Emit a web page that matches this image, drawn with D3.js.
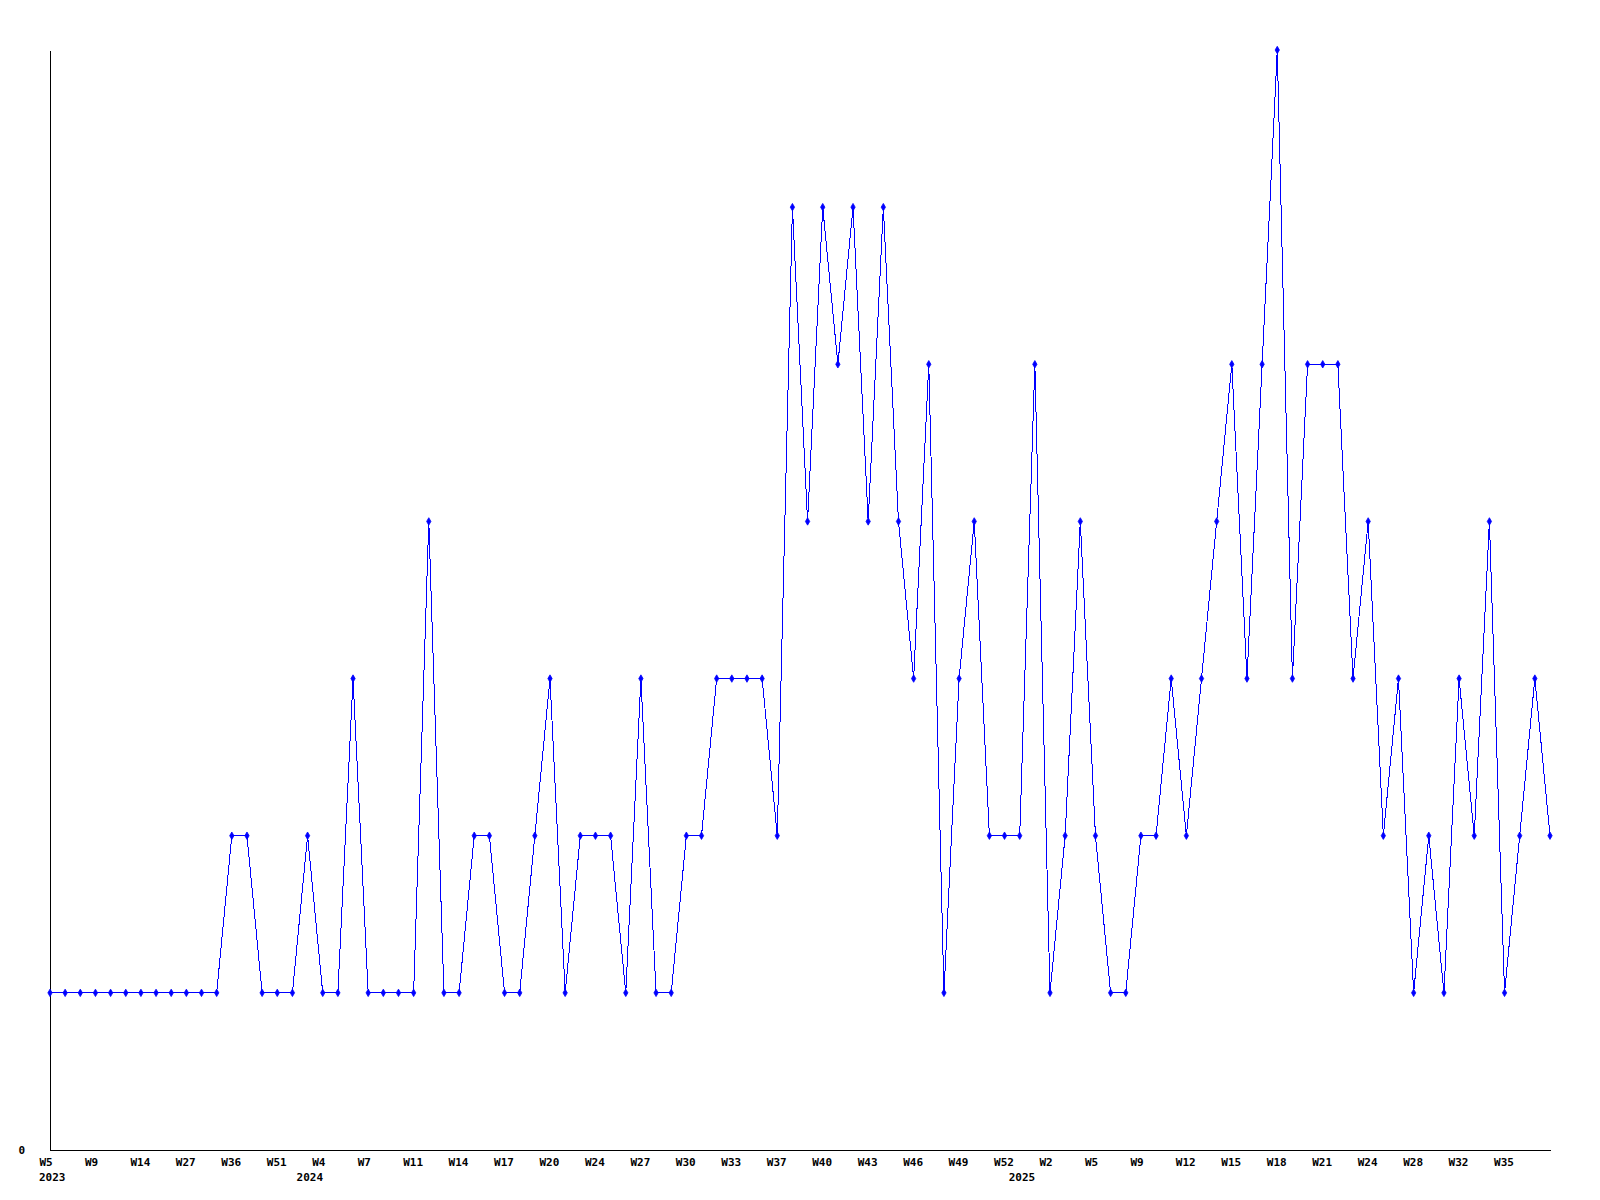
<!DOCTYPE html>
<html>
<head>
<meta charset="utf-8">
<script src="https://cdn.jsdelivr.net/npm/d3@7"></script>
<style>
    html, body { margin: 0; padding: 0; background: #fff; }
    #chart text { font-family: 'DejaVu Sans Mono', monospace; font-weight: bold; font-size: 11px; fill: #000; }
</style>
</head>
<body>
<div id="chart"></div>
<script>
//Datos
const VALUES = [
    1, 1, 1, 1, 1, 1, 1, 1, 1, 1, 1, 1, 2, 2, 1, 1, 1, 2, 1, 1,
    3, 1, 1, 1, 1, 4, 1, 1, 2, 2, 1, 1, 2, 3, 1, 2, 2, 2, 1, 3,
    1, 1, 2, 2, 3, 3, 3, 3, 2, 6, 4, 6, 5, 6, 4, 6, 4, 3, 5, 1,
    3, 4, 2, 2, 2, 5, 1, 2, 4, 2, 1, 1, 2, 2, 3, 2, 3, 4, 5, 3,
    5, 7, 3, 5, 5, 5, 3, 4, 2, 3, 1, 2, 1, 3, 2, 4, 1, 2, 3, 2
];
const TICK_LABELS = ['W5','W9','W14','W27','W36','W51','W4','W7','W11','W14','W17',
    'W20','W24','W27','W30','W33','W37','W40','W43','W46','W49','W52','W2',
    'W5','W9','W12','W15','W18','W21','W24','W28','W32','W35'];
const TICK_STEP = 3;
const YEAR_LABELS = ['2023', '2024', '2025'];
const YEAR_START = [0, 17, 64];
const Y_TICKS = [0];
const Y_MAX = 7;

//Colores fijos
const COLOR_LINE = '#0000ff',
COLOR_AXIS = '#000000';

let margin = {top: 50, right: 50, bottom: 50, left: 50},
    width = 1600 - margin.left - margin.right,
    height = 1200 - margin.top - margin.bottom;

let svg = d3.select('#chart')
    .append('svg')
        .attr('width', 1600)
        .attr('height', 1200)
    .append('g')
        .attr('transform', 'translate(' + margin.left + ',' + margin.top + ')');

let x = d3.scaleLinear()
    .domain([0, VALUES.length - 1])
    .range([0, width]);

let y = d3.scaleLinear()
    .domain([0, Y_MAX])
    .range([height, 0]);

//Eje X
let tickIdx = TICK_LABELS.map(function(d, i) { return i * TICK_STEP; });

let xAxis = function(g) {
    g.call(d3.axisBottom(x)
        .tickValues(tickIdx)
        .tickFormat(function(d, i) { return TICK_LABELS[i]; })
        .tickSize(0)
        .tickSizeOuter(0)
        .tickPadding(0));
    g.select('.domain').attr('stroke', COLOR_AXIS).attr('shape-rendering', 'crispEdges');
    g.selectAll('.tick text')
        .attr('text-anchor', 'start')
        .attr('x', -11)
        .attr('y', 16)
        .attr('dy', null);
}

svg.append('g')
    .attr('transform', 'translate(0,' + height + ')')
    .call(xAxis);

//Años
svg.append('g')
    .selectAll('text')
    .data(YEAR_LABELS)
    .enter()
    .append('text')
    .attr('x', function(d, i) { return x(YEAR_START[i]) - 11; })
    .attr('y', height + 31)
    .text(function(d) { return d; });

//Eje Y
let yAxis = function(g) {
    g.call(d3.axisLeft(y)
        .tickValues(Y_TICKS)
        .tickFormat(d3.format('d'))
        .tickSize(0)
        .tickSizeOuter(0)
        .tickPadding(25));
    g.select('.domain').attr('stroke', COLOR_AXIS).attr('shape-rendering', 'crispEdges');
    g.selectAll('.tick text').attr('text-anchor', 'end').attr('dy', '0.35em');
}

svg.append('g')
    .call(yAxis);

//Línea
let line = d3.line()
    .x(function(d, i) { return x(i); })
    .y(function(d) { return y(d); });

svg.append('path')
    .datum(VALUES)
    .attr('fill', 'none')
    .attr('stroke', COLOR_LINE)
    .attr('stroke-width', 1)
    .attr('shape-rendering', 'crispEdges')
    .attr('d', line);

//Marcadores
svg.selectAll('.dot')
    .data(VALUES)
    .enter()
    .append('path')
    .attr('class', 'dot')
    .attr('transform', function(d, i) { return 'translate(' + x(i) + ',' + y(d) + ')'; })
    .attr('d', d3.symbol().type(d3.symbolDiamond).size(16))
    .attr('fill', COLOR_LINE)
    .attr('stroke', COLOR_LINE)
    .attr('stroke-width', 0.8);
</script>
</body>
</html>
